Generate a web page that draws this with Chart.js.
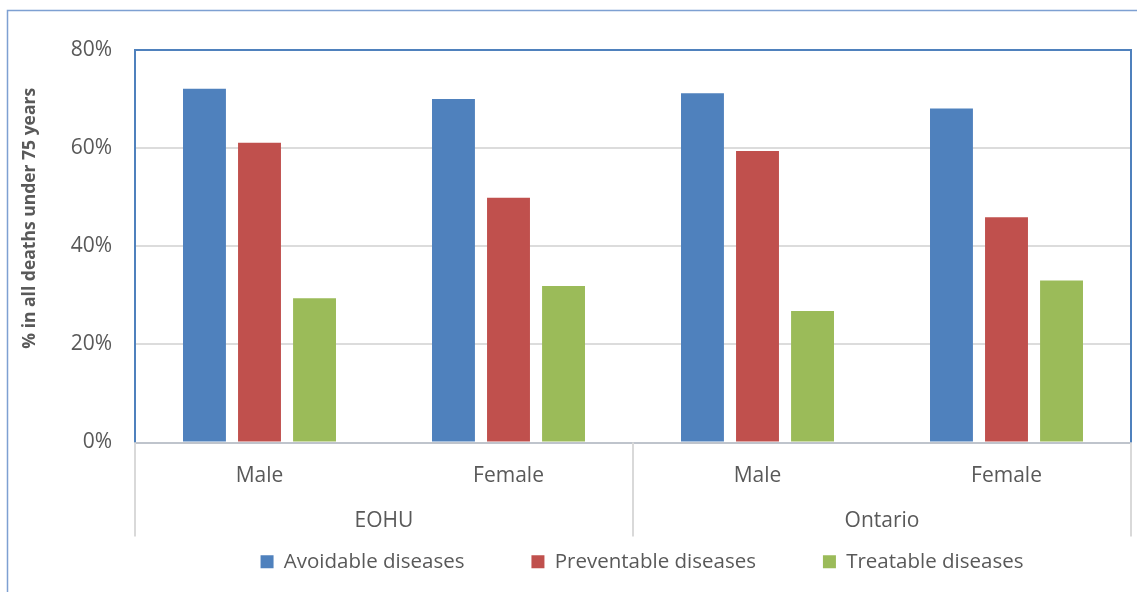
<!DOCTYPE html>
<html>
<head>
<meta charset="utf-8">
<script src="https://cdn.jsdelivr.net/npm/chart.js@4"></script>
<style>
  html, body { margin: 0; padding: 0; background: #fff; }
  #wrap { width: 1137px; height: 592px; }
</style>
</head>
<body>
<div id="wrap"><canvas id="chart"></canvas></div>
<script>
const categories = ['Male', 'Female', 'Male', 'Female'];
const groups = ['EOHU', 'Ontario'];
const avoidable = [72.1, 70.0, 71.2, 68.1];
const preventable = [61.1, 49.9, 59.4, 45.9];
const treatable = [29.4, 31.9, 26.8, 33.0];
const y_ticks = [0, 20, 40, 60, 80];
const y_title = '% in all deaths under 75 years';

const textColor = '#595959';
const fontName = "'Open Sans', 'Noto Sans', sans-serif";

// outer frame, plot border, axis title, group labels and separators
const frame = {
    id: 'frame',
    beforeDraw(chart) {
        const c = chart.ctx;
        c.save();
        c.strokeStyle = '#7EA0D2';
        c.lineWidth = 1.5;
        c.strokeRect(7.5, 10.5, 3000, 3000);
        c.restore();
    },
    afterLayout(chart) {
        chart.legend.left += 18;
    },
    afterDraw(chart) {
        const c = chart.ctx;
        const a = chart.chartArea;
        const x = chart.scales.x;
        const step = x.width / categories.length;
        const per = categories.length / groups.length;
        c.save();
        c.strokeStyle = '#4F81BD';
        c.lineWidth = 2;
        c.beginPath();
        c.moveTo(a.left, a.bottom);
        c.lineTo(a.left, a.top);
        c.lineTo(a.right, a.top);
        c.lineTo(a.right, a.bottom);
        c.stroke();

        c.strokeStyle = '#D9D9D9';
        c.lineWidth = 2;
        for (let g = 0; g <= groups.length; g++) {
            const px = Math.round(x.getPixelForValue(g * per) - step / 2);
            c.beginPath();
            c.moveTo(px, a.bottom);
            c.lineTo(px, a.bottom + 94);
            c.stroke();
        }
        c.fillStyle = textColor;
        c.font = '21px ' + fontName;
        c.textAlign = 'center';
        c.textBaseline = 'middle';
        groups.forEach((g, i) => {
            const x0 = x.getPixelForValue(i * per) - step / 2;
            const x1 = x.getPixelForValue((i + 1) * per - 1) + step / 2;
            c.fillText(g, (x0 + x1) / 2, a.bottom + 79);
        });

        // y axis title, placed as in the original (a bit above the plot middle)
        c.translate(30, (a.top + a.bottom) / 2 - 28);
        c.rotate(-Math.PI / 2);
        c.font = 'bold 17.5px ' + fontName;
        c.fillText(y_title, 0, 0);
        c.restore();
    }
};

const ctx = document.querySelector('#chart');
const chart = new Chart(ctx, {
    type: 'bar',
    plugins: [frame],
    data: {
        labels: categories,
        datasets: [
            { label: 'Avoidable diseases', data: avoidable, backgroundColor: '#4F81BD' },
            { label: 'Preventable diseases', data: preventable, backgroundColor: '#C0504D' },
            { label: 'Treatable diseases', data: treatable, backgroundColor: '#9BBB59' }
        ]
    },
    options: {
        responsive: true,
        maintainAspectRatio: false,
        animation: false,
        layout: { padding: { top: 50, right: 6, left: 15, bottom: 10 } },
        datasets: {
            bar: { categoryPercentage: 0.663, barPercentage: 0.78, borderWidth: 0 }
        },
        scales: {
            x: {
                grid: { display: false, drawTicks: false },
                border: { display: true, color: '#BFC4CC', width: 2 },
                ticks: { color: textColor, font: { family: fontName, size: 21 }, padding: 21, maxRotation: 0 },
                afterFit(scale) { scale.height = 42; }
            },
            y: {
                min: 0,
                max: 80,
                afterBuildTicks(scale) { scale.ticks = y_ticks.map(v => ({ value: v })); },
                grid: { color: '#DCDCDC', lineWidth: 2, drawTicks: false },
                border: { display: false },
                ticks: {
                    color: textColor,
                    font: { family: fontName, size: 21 },
                    padding: 23,
                    callback: v => v + '%'
                },
                afterFit(scale) { scale.width = 120; }
            }
        },
        plugins: {
            legend: {
                position: 'bottom',
                fullSize: false,
                labels: {
                    boxWidth: 13,
                    boxHeight: 13,
                    padding: 67,
                    color: textColor,
                    font: { family: fontName, size: 20.5 }
                }
            },
            tooltip: { enabled: false }
        }
    }
});
</script>
</body>
</html>
